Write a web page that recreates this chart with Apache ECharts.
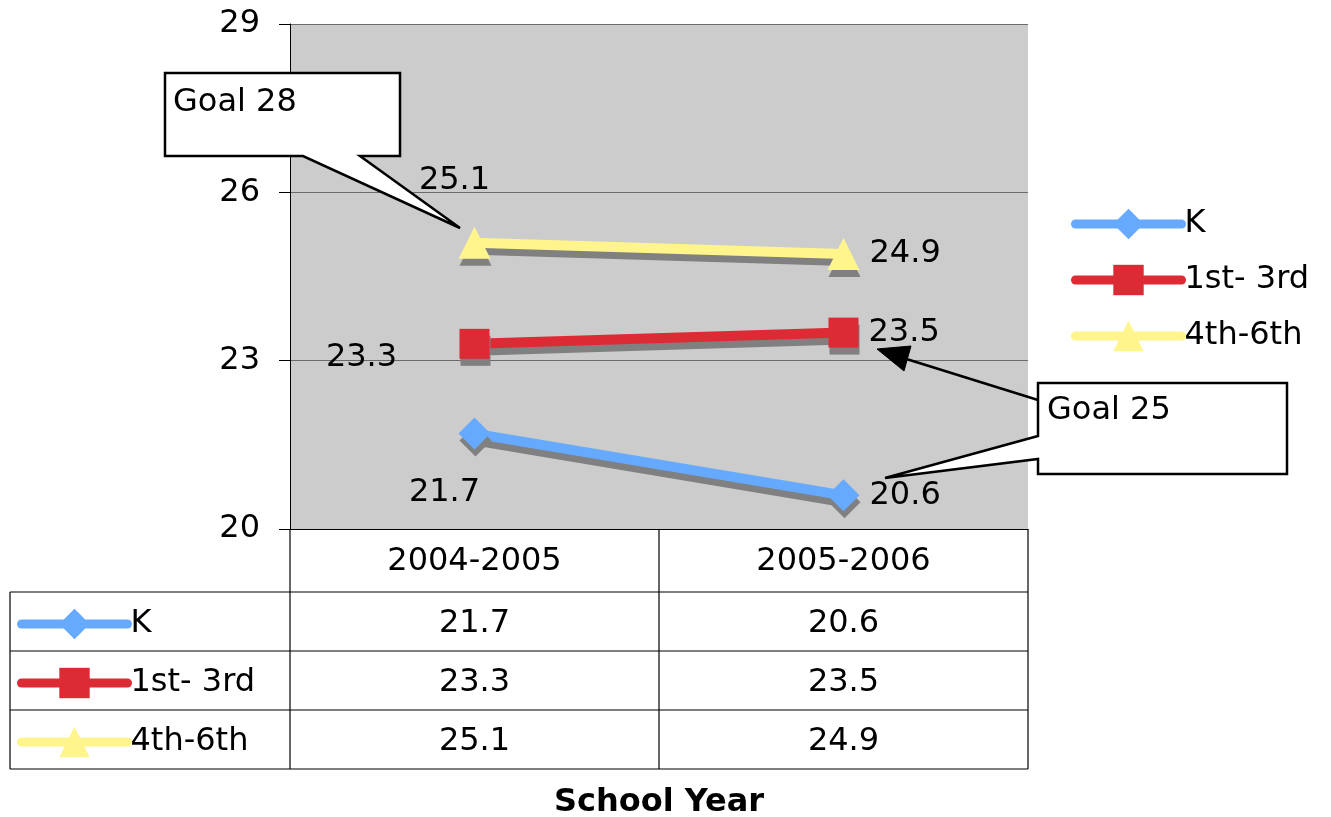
<!DOCTYPE html>
<html>
<head>
<meta charset="utf-8">
<script src="https://cdn.jsdelivr.net/npm/echarts@6/dist/echarts.min.js"></script>
<style>
html, body { margin: 0; padding: 0; background: #fff; }
#main { width: 1331px; height: 817px; }
</style>
</head>
<body>
<div id="main"></div>
<script>
// data
var years = ['2004-2005', '2005-2006'];
var seriesNames = ['K', '1st- 3rd', '4th-6th'];
var kValues = [21.7, 20.6];
var firstThirdValues = [23.3, 23.5];
var fourthSixthValues = [25.1, 24.9];
var yRange = [20, 29, 3];
var goalTexts = ['Goal 28', 'Goal 25'];

var FONT = 'DejaVu Sans';
var FS = 32;
var SHADOW = '#808080';

// label placement for every point (position, offset)
var labelPlace = [
    [['inside', [-30, 59]], ['right', [0, 0]]],
    [['inside', [-113, 14]], ['right', [0, 0]]],
    [['inside', [-20, -62]], ['right', [0, 0]]]
];

var looks = [
    {color: '#66aaff', symbol: 'diamond', size: 32},
    {color: '#dd2b35', symbol: 'rect', size: 30},
    {color: '#fff58c', symbol: 'triangle', size: 32}
];

var allValues = [kValues, firstThirdValues, fourthSixthValues];

function makeSeries(i) {
    return {
        name: seriesNames[i],
        type: 'line',
        symbol: looks[i].symbol,
        symbolSize: looks[i].size,
        z: 2 + i,
        lineStyle: {
            color: looks[i].color, width: 10, cap: 'round',
            shadowColor: SHADOW, shadowBlur: 0, shadowOffsetX: 1, shadowOffsetY: 7
        },
        itemStyle: {
            color: looks[i].color, borderWidth: 0,
            shadowColor: SHADOW, shadowBlur: 0, shadowOffsetX: 1, shadowOffsetY: 7
        },
        emphasis: {disabled: true},
        data: allValues[i].map(function (v, j) {
            return {
                value: v,
                label: {
                    show: true,
                    position: labelPlace[i][j][0],
                    offset: labelPlace[i][j][1],
                    distance: 10,
                    color: '#000', fontFamily: FONT, fontSize: FS
                }
            };
        })
    };
}

var myChart = echarts.init(document.getElementById('main'));

var legendCommon = {
    orient: 'vertical',
    itemWidth: 106,
    itemHeight: 38,
    selectedMode: false,
    textStyle: {color: '#000', fontFamily: FONT, fontSize: FS, padding: [0, 0, 0, -2]},
    itemStyle: {shadowColor: 'transparent', shadowBlur: 0, shadowOffsetX: 0, shadowOffsetY: 0},
    lineStyle: {width: 9, shadowColor: 'transparent', shadowBlur: 0, shadowOffsetX: 0, shadowOffsetY: 0},
    data: seriesNames
};

option = {
    backgroundColor: '#fff',
    animation: false,
    grid: {
        left: 290, right: 303, top: 24, bottom: 288,
        outerBoundsMode: 'none',
        show: true, backgroundColor: '#cccccc', borderWidth: 0
    },
    legend: [
        Object.assign({left: 1066, top: 203, itemGap: 24}, legendCommon),
        Object.assign({left: 12, top: 603, itemGap: 27}, legendCommon)
    ],
    xAxis: {
        type: 'category',
        data: years,
        boundaryGap: true,
        axisLine: {lineStyle: {color: '#000', width: 1}},
        axisTick: {show: false},
        axisLabel: {color: '#000', fontFamily: FONT, fontSize: FS, margin: 17},
        name: 'School Year',
        nameLocation: 'middle',
        nameGap: 258,
        nameTextStyle: {color: '#000', fontFamily: FONT, fontSize: FS, fontWeight: 'bold'}
    },
    yAxis: {
        type: 'value',
        min: yRange[0],
        max: yRange[1],
        interval: yRange[2],
        axisLine: {show: true, lineStyle: {color: '#000', width: 1}},
        axisTick: {show: true, length: 11, lineStyle: {color: '#000'}},
        axisLabel: {color: '#000', fontFamily: FONT, fontSize: FS, margin: 30},
        splitLine: {show: true, lineStyle: {color: '#6a6a6a', width: 1}}
    },
    series: [makeSeries(0), makeSeries(1), makeSeries(2)]
};
myChart.setOption(option);

// data table under the plot + callouts
var rowTop = 592, rowH = 59, tableLeft = 10, tableRight = 1028;
var colX = years.map(function (y) { return myChart.convertToPixel({xAxisIndex: 0}, y); });
var axisBottom = myChart.convertToPixel({yAxisIndex: 0}, yRange[0]);
var tableBottom = rowTop + rowH * seriesNames.length;
var colEdges = [290, (colX[0] + colX[1]) / 2, tableRight];

var els = [];
function line(x1, y1, x2, y2) {
    els.push({type: 'line', shape: {x1: x1, y1: y1, x2: x2, y2: y2},
        style: {stroke: '#000', lineWidth: 1.2}, z: 10});
}
colEdges.forEach(function (x) { line(x, axisBottom, x, tableBottom); });
line(tableLeft, rowTop, tableLeft, tableBottom);
for (var r = 0; r <= seriesNames.length; r++) {
    line(tableLeft, rowTop + r * rowH, tableRight, rowTop + r * rowH);
}
allValues.forEach(function (vals, i) {
    vals.forEach(function (v, j) {
        els.push({type: 'text', x: colX[j], y: rowTop + rowH * i + rowH / 2 + 2, z: 10,
            style: {text: String(v), fill: '#000', font: FS + 'px "' + FONT + '"',
                align: 'center', verticalAlign: 'middle'}});
    });
});

// Goal 28 callout
els.push({type: 'polygon', z: 20,
    shape: {points: [[165, 73], [400, 73], [400, 156], [360, 156], [460, 228], [303, 156], [165, 156]]},
    style: {fill: '#fff', stroke: '#000', lineWidth: 2.5}});
els.push({type: 'text', x: 173, y: 103, z: 21,
    style: {text: goalTexts[0], fill: '#000', font: FS + 'px "' + FONT + '"', verticalAlign: 'middle'}});

// Goal 25 callout with arrow
els.push({type: 'line', z: 19, shape: {x1: 1038, y1: 400, x2: 900, y2: 357},
    style: {stroke: '#000', lineWidth: 2.5}});
els.push({type: 'polygon', z: 19,
    shape: {points: [[877, 349], [911, 346], [904, 371]]},
    style: {fill: '#000', stroke: '#000', lineWidth: 1}});
els.push({type: 'polygon', z: 20,
    shape: {points: [[1038, 383], [1287, 383], [1287, 474], [1038, 474], [1038, 459], [885, 478], [1038, 436]]},
    style: {fill: '#fff', stroke: '#000', lineWidth: 2.5}});
els.push({type: 'text', x: 1047, y: 411, z: 21,
    style: {text: goalTexts[1], fill: '#000', font: FS + 'px "' + FONT + '"', verticalAlign: 'middle'}});

myChart.setOption({graphic: {elements: els}});
</script>
</body>
</html>
